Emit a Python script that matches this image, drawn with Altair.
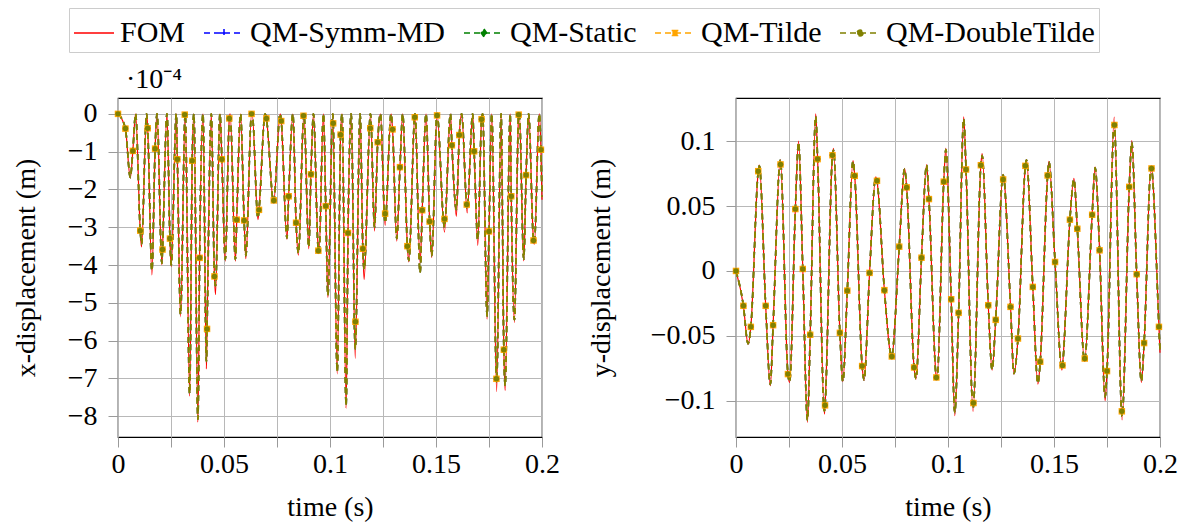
import altair as alt
import pandas as pd

FONT = "Liberation Serif"
FS = 28

SERIES = ["FOM", "QM-Symm-MD", "QM-Static", "QM-Tilde", "QM-DoubleTilde"]
ROMS = SERIES[1:]
COLORS = ["#ff0000", "#0000ff", "#008000", "#ffa500", "#808000"]

TIME_TICKS = [0, 0.025, 0.05, 0.075, 0.1, 0.125, 0.15, 0.175, 0.2]
XDISP_TICKS = [-8, -7, -6, -5, -4, -3, -2, -1, 0]
YDISP_TICKS = [-0.1, -0.05, 0, 0.05, 0.1]

# ---- marker samples (shown as symbols) ----
marker_t = [0.0, 0.0035, 0.007, 0.0105, 0.014, 0.0175, 0.021, 0.0245, 0.028, 0.0315,
            0.035, 0.0385, 0.042, 0.0455, 0.049, 0.0525, 0.056, 0.0595, 0.063, 0.0665,
            0.07, 0.0735, 0.077, 0.0805, 0.084, 0.0875, 0.091, 0.0945, 0.098, 0.1015,
            0.105, 0.1085, 0.112, 0.1155, 0.119, 0.1225, 0.126, 0.1295, 0.133, 0.1365,
            0.14, 0.1435, 0.147, 0.1505, 0.154, 0.1575, 0.161, 0.1645, 0.168, 0.1715,
            0.175, 0.1785, 0.182, 0.1855, 0.189, 0.1925, 0.196, 0.1995]
x_marker = [0.0, -0.39, -0.98, -3.09, -0.38, -0.92, -3.59, -3.30, -1.20, -0.02,
            -1.24, -3.81, -5.69, -4.30, -1.20, -0.12, -2.80, -2.82, 0.0, -2.54,
            -0.12, -2.29, -0.19, -2.18, -2.88, -0.05, -1.60, -3.62, -2.44, -0.25,
            -0.55, -3.15, -5.50, -3.57, -0.38, -0.75, -2.64, -0.41, -1.41, -3.50,
            -0.09, -2.55, -2.85, -0.04, -2.78, -0.83, -0.56, -2.40, -0.99, -0.14,
            -3.11, -7.01, -6.24, -2.18, -0.02, -1.62, -3.35, -0.95]
y_marker = [0.0, -0.0269, -0.0431, 0.0769, -0.0269, -0.0418, 0.0821, -0.0795, 0.0477, 0.0015,
            -0.0492, 0.0862, -0.1036, 0.0892, -0.0477, -0.0152, 0.0733, -0.0733, -0.0015, 0.0695,
            -0.0148, -0.0659, 0.0187, 0.0644, -0.0744, 0.0102, 0.0554, -0.0821, 0.0688, -0.0218,
            -0.0323, 0.0782, -0.1018, 0.0815, -0.0264, -0.0377, 0.0705, -0.0277, -0.0521, 0.0810,
            -0.0123, -0.0700, 0.0736, 0.0069, -0.0728, 0.0395, 0.0325, -0.0675, 0.0433, 0.0159,
            -0.0772, 0.1125, -0.1082, 0.0648, -0.0025, -0.0556, 0.0790, -0.0431]

# ---- x-displacement (x 1e-4 m): maxima (at 0) and minima ----
x_peak_t = [0.0, 0.0083, 0.0135, 0.0184, 0.0231, 0.0275, 0.0317, 0.0358, 0.0401, 0.0440,
            0.0481, 0.0529, 0.0578, 0.0633, 0.0694, 0.0765, 0.0825, 0.0877, 0.0922, 0.0969,
            0.1013, 0.1057, 0.1100, 0.1142, 0.1191, 0.1238, 0.1288, 0.1343, 0.1401, 0.1453,
            0.1505, 0.1568, 0.1621, 0.1673, 0.1720, 0.1763, 0.1807, 0.1850, 0.1893, 0.1937,
            0.1987]
x_trough_t = [0.0058, 0.0111, 0.0160, 0.0207, 0.0251, 0.0295, 0.0338, 0.0377, 0.0417, 0.0460,
              0.0506, 0.0554, 0.0603, 0.0660, 0.0734, 0.0797, 0.0851, 0.0900, 0.0948, 0.0990,
              0.1034, 0.1076, 0.1119, 0.1161, 0.1210, 0.1260, 0.1315, 0.1372, 0.1425, 0.1480,
              0.1540, 0.1596, 0.1647, 0.1697, 0.1741, 0.1786, 0.1826, 0.1870, 0.1914, 0.1964]
x_trough_fom = [-1.70, -3.52, -4.26, -3.99, -4.04, -5.37, -7.47, -8.16, -6.75, -4.78,
                -3.90, -3.90, -3.83, -2.80, -2.35, -3.32, -3.74, -3.57, -3.70, -4.86,
                -6.88, -7.79, -6.47, -4.38, -3.10, -2.95, -3.37, -3.92, -3.95, -3.80,
                -3.13, -2.71, -2.62, -3.48, -5.43, -7.35, -7.32, -5.52, -3.89, -3.45]
x_trough_rom = [-1.68, -3.45, -4.15, -3.95, -4.00, -5.30, -7.40, -8.08, -6.55, -4.55,
                -3.85, -3.85, -3.75, -2.75, -2.32, -3.28, -3.68, -3.52, -3.65, -4.80,
                -6.82, -7.72, -6.22, -4.11, -3.00, -2.88, -3.30, -3.88, -4.20, -3.75,
                -3.00, -2.53, -2.50, -3.33, -5.35, -7.10, -7.19, -5.45, -3.84, -3.40]
x_end_fom = -2.27
x_end_rom = -2.20

# ---- y-displacement (m): alternating extrema ----
y_ext_t = [0.0057, 0.0110, 0.0162, 0.0209, 0.0253, 0.0295, 0.0337, 0.0376, 0.0417, 0.0460,
           0.0504, 0.0552, 0.0604, 0.0659, 0.0734, 0.0795, 0.0849, 0.0899, 0.0948, 0.0990,
           0.1032, 0.1074, 0.1118, 0.1161, 0.1208, 0.1260, 0.1311, 0.1370, 0.1424, 0.1476,
           0.1537, 0.1594, 0.1644, 0.1694, 0.1741, 0.1784, 0.1821, 0.1867, 0.1912, 0.1958]
y_ext_fom = [-0.0564, 0.0815, -0.0885, 0.0859, -0.0859, 0.1000, -0.1167, 0.1210, -0.1103, 0.0944,
             -0.0854, 0.0851, -0.0846, 0.0726, -0.0660, 0.0790, -0.0833, 0.0820, -0.0833, 0.0944,
             -0.1115, 0.1187, -0.1082, 0.0905, -0.0764, 0.0744, -0.0795, 0.0859, -0.0872, 0.0844,
             -0.0764, 0.0713, -0.0697, 0.0802, -0.1000, 0.1185, -0.1149, 0.1005, -0.0859, 0.0808]
y_ext_rom = [-0.0560, 0.0810, -0.0875, 0.0855, -0.0855, 0.0990, -0.1150, 0.1190, -0.1080, 0.0930,
             -0.0850, 0.0845, -0.0840, 0.0720, -0.0655, 0.0785, -0.0830, 0.0815, -0.0830, 0.0935,
             -0.1090, 0.1170, -0.1060, 0.0890, -0.0760, 0.0740, -0.0790, 0.0855, -0.0865, 0.0840,
             -0.0755, 0.0705, -0.0690, 0.0795, -0.0970, 0.1130, -0.1120, 0.0990, -0.0850, 0.0800]
y_end_fom = -0.063
y_end_rom = -0.062

# legend glyphs: line segment + marker, as SVG paths
LEGEND_GLYPHS = [
    "M-1,0H1",
    "M-1,0H1M0,-0.2V0.2M-0.2,0H0.2",
    "M-1,0H1M0,-0.2L0.14,0L0,0.2L-0.14,0Z",
    "M-1,0H1M-0.13,-0.13H0.13V0.13H-0.13Z",
    "M-1,0H1M0.15,0A0.15,0.15,0,1,1,-0.15,0A0.15,0.15,0,1,1,0.15,0Z",
]
MARK_SHAPES = ["cross", "diamond", "square", "circle"]
MARK_SIZES = [30, 30, 42, 30]


def build_curve(anchors, mk_vals):
    pts = list(anchors)
    times = [p[0] for p in anchors]
    for t, v in zip(marker_t, mk_vals):
        if min(abs(t - a) for a in times) > 0.00025:
            pts.append((t, v))
    pts.sort(key=lambda p: p[0])
    return pts


def line_table(fom_pts, rom_pts):
    rows = [{"t": t, "v": v, "series": "FOM"} for t, v in fom_pts]
    for s in ROMS:
        rows += [{"t": t, "v": v, "series": s} for t, v in rom_pts]
    return pd.DataFrame(rows)


def marker_table(vals):
    rows = []
    for s in ROMS:
        rows += [{"t": t, "v": v, "series": s} for t, v in zip(marker_t, vals)]
    return pd.DataFrame(rows)


x_fom = build_curve([(t, 0.0) for t in x_peak_t] + list(zip(x_trough_t, x_trough_fom)) + [(0.2, x_end_fom)], x_marker)
x_rom = build_curve([(t, 0.0) for t in x_peak_t] + list(zip(x_trough_t, x_trough_rom)) + [(0.2, x_end_rom)], x_marker)
y_fom = build_curve([(0.0, 0.0)] + list(zip(y_ext_t, y_ext_fom)) + [(0.2, y_end_fom)], y_marker)
y_rom = build_curve([(0.0, 0.0)] + list(zip(y_ext_t, y_ext_rom)) + [(0.2, y_end_rom)], y_marker)

x_lines = line_table(x_fom, x_rom)
y_lines = line_table(y_fom, y_rom)
x_marks = marker_table(x_marker)
y_marks = marker_table(y_marker)
legend_df = pd.DataFrame({"series": SERIES})

COLOR_SCALE = alt.Scale(domain=SERIES, range=COLORS)
STROKE_SCALE = alt.Scale(domain=SERIES, range=COLORS)
DASH_SCALE = alt.Scale(domain=SERIES, range=[[1, 0], [6, 4], [6, 4], [6, 4], [6, 4]])
SHAPE_SCALE = alt.Scale(domain=SERIES, range=LEGEND_GLYPHS)

LEG = alt.Legend(
    title=None, orient="none", legendX=-49, legendY=-90, direction="horizontal",
    columns=5, symbolSize=1600, symbolStrokeWidth=1.5, symbolOpacity=1,
    labelFont=FONT, labelFontSize=30, labelColor="black", labelOffset=5,
    columnPadding=15, padding=4, strokeColor="#cccccc", labelLimit=500,
)

X_LABELS = "abs(datum.value * 20 - round(datum.value * 20)) < 0.000001 ? format(datum.value, '~g') : ''"


def panel(lines_df, marks_df, ydomain, yticks, ytitle, title_color, title_pad):
    x_enc = alt.X("t:Q", scale=alt.Scale(domain=[0, 0.2], nice=False, zero=False),
                  axis=alt.Axis(values=TIME_TICKS, labelExpr=X_LABELS, title="time (s)",
                                labelFlush=False, labelOverlap=False, tickSize=10,
                                labelPadding=3, titlePadding=15))
    y_enc = alt.Y("v:Q", scale=alt.Scale(domain=ydomain, nice=False, zero=False),
                  axis=alt.Axis(values=yticks, format="~g", title=ytitle, tickSize=10,
                                labelPadding=11, labelOverlap=False, titlePadding=title_pad))
    color = alt.Color("series:N", scale=COLOR_SCALE, legend=LEG)
    fom = (alt.Chart(lines_df).transform_filter(alt.datum.series == "FOM")
           .mark_line(interpolate="monotone", strokeWidth=1.2)
           .encode(x=x_enc, y=y_enc, color=color))
    rom = (alt.Chart(lines_df).transform_filter(alt.datum.series != "FOM")
           .mark_line(interpolate="monotone", strokeWidth=1.6)
           .encode(x=x_enc, y=y_enc, color=color,
                   strokeDash=alt.StrokeDash("series:N", scale=DASH_SCALE, legend=LEG)))
    layers = [fom, rom]
    for s, shp, size in zip(ROMS, MARK_SHAPES, MARK_SIZES):
        layers.append(
            alt.Chart(marks_df).transform_filter(alt.datum.series == s)
            .mark_point(shape=shp, size=size, filled=True, opacity=1)
            .encode(x=x_enc, y=y_enc, color=color)
        )
    layers.append(
        alt.Chart(legend_df).transform_filter("false").mark_point(filled=True)
        .encode(color=color,
                stroke=alt.Stroke("series:N", scale=STROKE_SCALE, legend=LEG),
                shape=alt.Shape("series:N", scale=SHAPE_SCALE, legend=LEG),
                strokeDash=alt.StrokeDash("series:N", scale=DASH_SCALE, legend=LEG))
    )
    return alt.layer(*layers).properties(
        width=424, height=339,
        title=alt.TitleParams(text="·10⁻⁴", anchor="start", frame="group", font=FONT,
                              fontSize=FS, fontWeight="normal", color=title_color,
                              offset=4, dx=8),
    )


left = panel(x_lines, x_marks, [-8.55, 0.42], XDISP_TICKS, "x-displacement (m)", "black", 27)
right = panel(y_lines, y_marks, [-0.128, 0.1333], YDISP_TICKS, "y-displacement (m)", "white", 35)

chart = (
    alt.hconcat(left, right, spacing=25)
    .resolve_scale(color="shared", stroke="shared", strokeDash="shared", shape="shared")
    .resolve_legend(color="shared", stroke="shared", strokeDash="shared", shape="shared")
    .properties(padding={"left": 11, "right": 5, "top": 7, "bottom": 0}, background="white")
    .configure_view(stroke="black", strokeWidth=1.2)
    .configure_axis(domain=False, grid=True, gridColor="#b8b8b8", gridWidth=1,
                    tickColor="#9a9a9a", labelFont=FONT, labelFontSize=FS,
                    titleFont=FONT, titleFontSize=FS, titleFontWeight="normal",
                    labelColor="black", titleColor="black")
)

chart.save("out.html", embed_options={"renderer": "svg", "actions": False})
